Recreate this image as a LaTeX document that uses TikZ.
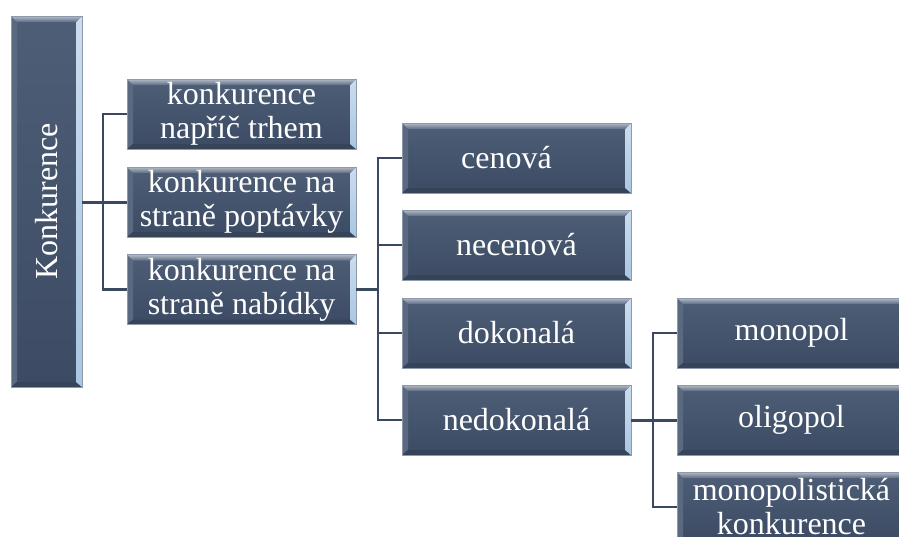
\documentclass[tikz,border=0pt]{standalone}
\usepackage{fontspec}
\setmainfont{Liberation Serif}
\usepackage{graphicx}
\usetikzlibrary{calc}
\definecolor{boxtop}{HTML}{4E5E77}
\definecolor{boxbot}{HTML}{3C4B63}
\definecolor{bevlight}{HTML}{B4BCC8}
\definecolor{bevmid}{HTML}{5D6C83}
\definecolor{bevleft}{HTML}{596980}
\definecolor{bevright}{HTML}{A9C6E2}
\definecolor{bevbot}{HTML}{36445A}
\definecolor{edge}{HTML}{8E9AAB}
\definecolor{conncol}{HTML}{3A4960}
\tikzset{
  bevels/.style={path picture={
    \coordinate (pNW) at (path picture bounding box.north west);
    \coordinate (pNE) at (path picture bounding box.north east);
    \coordinate (pSW) at (path picture bounding box.south west);
    \coordinate (pSE) at (path picture bounding box.south east);
    \fill[bevleft] (pNW) -- ($(pNW)+(6pt,-6pt)$) -- ($(pSW)+(6pt,5pt)$) -- (pSW) -- cycle;
    \fill[bevbot] (pSW) -- ($(pSW)+(6pt,5pt)$) -- ($(pSE)+(-6pt,5pt)$) -- (pSE) -- cycle;
    \shade[top color=bevright!60!white, bottom color=bevright] (pNE) -- ($(pNE)+(-6pt,-6pt)$) -- ($(pSE)+(-6pt,5pt)$) -- (pSE) -- cycle;
    \shade[top color=bevlight, bottom color=bevmid] (pNW) -- (pNE) -- ($(pNE)+(-6pt,-6pt)$) -- ($(pNW)+(6pt,-6pt)$) -- cycle;
  }},
  box/.style={rectangle, inner sep=0pt, minimum width=229pt, minimum height=70pt,
    top color=boxtop, bottom color=boxbot, draw=edge, line width=0.6pt,
    text=white, align=center, font=\fontsize{32}{34}\selectfont, bevels},
  conn/.style={draw=conncol, line width=2.2pt},
  trunk/.style={draw=conncol, line width=3pt},
}
\begin{document}
\begin{tikzpicture}[x=1pt,y=-1pt]
\path[use as bounding box, clip] (0,0) rectangle (899,536);
\fill[white] (0,0) rectangle (899,536);

\node[box, minimum width=71pt, minimum height=371pt] (K) at (46.5,201.5) {\rotatebox{90}{Konkurence}};

\node[box] (a1) at (241.5,114) {konkurence\\napříč trhem};
\node[box] (a2) at (241.5,202) {konkurence na\\straně poptávky};
\node[box] (a3) at (241.5,289.5) {konkurence na\\straně nabídky};

\node[box] (b1) at (516.5,158) {\hspace*{-20pt}cenová};
\node[box] (b2) at (516.5,245) {necenová};
\node[box] (b3) at (516.5,333) {dokonalá};
\node[box] (b4) at (516.5,420) {nedokonalá};

\node[box] (c1) at (791.5,333) {monopol};
\node[box] (c2) at (791.5,420) {oligopol};
\node[box] (c3) at (791.5,507) {monopolistická\\konkurence};

\coordinate (j1) at (103,202);
\coordinate (j2) at (378,289.5);
\coordinate (j3) at (653,420);

\draw[trunk] (K.east |- a2.west) -- (a2.west);
\draw[conn] (a1.west) -| (j1);
\draw[conn] (a3.west) -| (j1);

\draw[trunk] (a3.east) -- (j2);
\draw[conn] (b1.west) -| (j2);
\draw[conn] (b4.west) -| (j2);
\draw[conn] (b2.west) -- (j2 |- b2.west);
\draw[conn] (b3.west) -- (j2 |- b3.west);

\draw[trunk] (b4.east) -- (c2.west);
\draw[conn] (c1.west) -| (j3);
\draw[conn] (c3.west) -| (j3);
\end{tikzpicture}
\end{document}
